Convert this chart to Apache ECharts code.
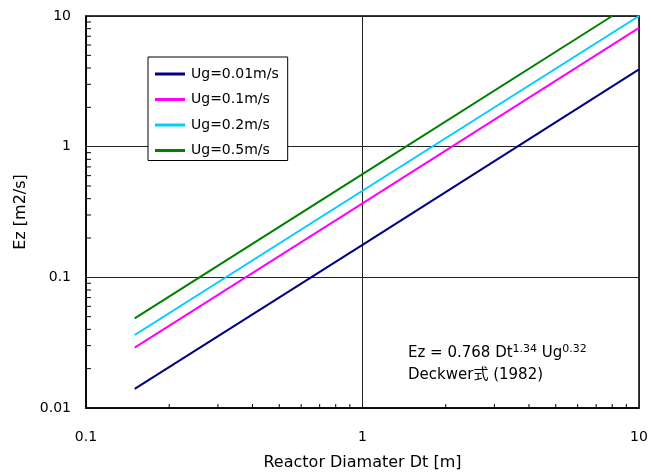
<!DOCTYPE html>
<html>
<head>
<meta charset="utf-8">
<script src="https://cdn.jsdelivr.net/npm/echarts@6/dist/echarts.min.js"></script>
<style>
html,body{margin:0;padding:0;background:#fff;}
#c{width:651px;height:473px;}
</style>
</head>
<body>
<div id="c"></div>
<script>
// ---- data ----
const seriesNames = ['Ug=0.01m/s', 'Ug=0.1m/s', 'Ug=0.2m/s', 'Ug=0.5m/s'];
const ug001 = [[0.15, 0.0140], [1, 0.177], [10, 3.9]];
const ug01  = [[0.15, 0.0290], [1, 0.368], [10, 8.1]];
const ug02  = [[0.15, 0.0362], [1, 0.46], [10, 10]];
const ug05  = [[0.15, 0.0485], [1, 0.617], [8.0, 10]];
const xTickLabels = ['0.1', '1', '10'];
const yTickLabels = ['0.01', '0.1', '1', '10'];
const xMinorValues = [0.2,0.3,0.4,0.5,0.6,0.7,0.8,0.9,2,3,4,5,6,7,8,9];
const yMinorValues = [0.02,0.03,0.04,0.05,0.06,0.07,0.08,0.09,0.2,0.3,0.4,0.5,0.6,0.7,0.8,0.9,2,3,4,5,6,7,8,9];
const colors = ['#000080', '#ff00ff', '#00ccff', '#008000'];

const FONT = '"DejaVu Sans", "Noto Sans CJK JP", sans-serif';
const chart = echarts.init(document.getElementById('c'), null, {renderer: 'canvas'});

function lineSeries(name, data, color) {
  return {
    name: name, type: 'line', data: data, showSymbol: false, symbol: 'none',
    lineStyle: {color: color, width: 2}, itemStyle: {color: color}, z: 3, animation: false
  };
}

const option = {
  animation: false,
  backgroundColor: '#fff',
  textStyle: {fontFamily: FONT},
  grid: {left: 86, right: 12, top: 16, bottom: 65, containLabel: false, outerBoundsMode: 'none',
    show: true, borderColor: '#000', borderWidth: 1.5, backgroundColor: 'transparent'},
  xAxis: {
    type: 'log', logBase: 10, min: 0.1, max: 10,
    name: 'Reactor Diamater Dt [m]', nameLocation: 'middle', nameGap: 47,
    nameTextStyle: {fontFamily: FONT, fontSize: 16, color: '#000'},
    axisLine: {show: true, lineStyle: {color: '#000', width: 1.5}},
    axisTick: {show: false},
    axisLabel: {fontFamily: FONT, fontSize: 14, color: '#000', margin: 22,
      formatter: function (v, i) { return xTickLabels[i]; }},
    splitLine: {show: true, lineStyle: {color: '#222', width: 1}}
  },
  yAxis: {
    type: 'log', logBase: 10, min: 0.01, max: 10,
    name: 'Ez [m2/s]', nameLocation: 'middle', nameGap: 57, nameRotate: 90,
    nameTextStyle: {fontFamily: FONT, fontSize: 16, color: '#000'},
    axisLine: {show: true, lineStyle: {color: '#000', width: 1.5}},
    axisTick: {show: false},
    axisLabel: {fontFamily: FONT, fontSize: 14, color: '#000', margin: 15,
      formatter: function (v, i) { return yTickLabels[i]; }},
    splitLine: {show: true, lineStyle: {color: '#222', width: 1}}
  },
  legend: {
    data: seriesNames,
    orient: 'vertical', left: 148, top: 57,
    backgroundColor: '#fff', borderColor: '#000', borderWidth: 1, borderRadius: 0,
    padding: [9, 9, 2, 7],
    itemWidth: 30, itemHeight: 3, itemGap: 9.5, icon: 'rect',
    textStyle: {fontFamily: FONT, fontSize: 14, color: '#000', lineHeight: 16, padding: [0, 0, 0, 1]}
  },
  series: [
    lineSeries(seriesNames[0], ug001, colors[0]),
    lineSeries(seriesNames[1], ug01, colors[1]),
    lineSeries(seriesNames[2], ug02, colors[2]),
    lineSeries(seriesNames[3], ug05, colors[3]),
    {
      name: 'xminor', type: 'custom', silent: true, z: 4,
      data: xMinorValues.map(function (v) { return [v, 0.01]; }),
      renderItem: function (params, api) {
        const p = api.coord([api.value(0), 0.01]);
        return {type: 'line', shape: {x1: p[0], y1: p[1], x2: p[0], y2: p[1] - 4},
          style: {stroke: '#000', lineWidth: 1}};
      }
    },
    {
      name: 'yminor', type: 'custom', silent: true, z: 4,
      data: yMinorValues.map(function (v) { return [0.1, v]; }),
      renderItem: function (params, api) {
        const p = api.coord([0.1, api.value(1)]);
        return {type: 'line', shape: {x1: p[0], y1: p[1], x2: p[0] + 5, y2: p[1]},
          style: {stroke: '#000', lineWidth: 1}};
      }
    }
  ],
  graphic: [
    {
      type: 'text', left: 408, top: 344, z: 10,
      style: {
        text: '{a|Ez = 0.768 Dt}{s|1.34}{a| Ug}{s|0.32}',
        rich: {
          a: {fontFamily: FONT, fontSize: 15, fill: '#000', lineHeight: 18},
          s: {fontFamily: FONT, fontSize: 11, fill: '#000', padding: [0, 0, 8, 0], lineHeight: 18}
        }
      }
    },
    {
      type: 'text', left: 408, top: 368, z: 10,
      style: {text: 'Deckwer式 (1982)', fontFamily: FONT, fontSize: 15, fill: '#000'}
    }
  ]
};
chart.setOption(option);
</script>
</body>
</html>
